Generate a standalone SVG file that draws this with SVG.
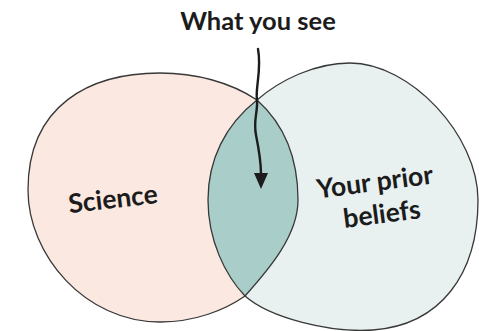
<svg xmlns="http://www.w3.org/2000/svg" width="479" height="331" viewBox="0 0 479 331">
  <style>
    .outline { fill: none; stroke: #383838; stroke-width: 1.3; }
    .label { font-family: Lato, "Open Sans", sans-serif; font-weight: 700; font-size: 26.5px; fill: #1c1c1c; text-anchor: middle; }
    .arrow { fill: none; stroke: #1c1c1c; stroke-width: 2.4; stroke-linecap: round; }
  </style>
  <defs>
    <marker id="head" markerUnits="userSpaceOnUse" viewBox="0 0 16 14" markerWidth="16" markerHeight="14" refX="1" refY="7" orient="auto">
      <path d="M0,0 L16,7 L0,14 Z" fill="#1c1c1c"/>
    </marker>
  </defs>
  <rect width="479" height="331" fill="#ffffff"/>

  <g id="science">
    <path id="science-shape" d="M160,73 C90,73 28,105 28,190 C28,255 85,322 160,322 C195,322 225,310 245,296 C270,268 298,235 298,200 C298,160 285,125 257,100 C230,82 195,73 160,73 Z" fill="#fbe9e1"/>
  </g>
  <g id="beliefs">
    <path id="beliefs-shape" d="M257,100 C280,80 315,63 350,63 C410,63 478,135 478,200 C478,275 440,325 373,330 C330,333 270,318 245,296 C225,275 208,240 208,200 C208,160 225,125 257,100 Z" fill="#e8f1f0"/>
  </g>
  <g id="overlap">
    <path d="M257,100 C285,125 298,160 298,200 C298,235 270,268 245,296 C225,275 208,240 208,200 C208,160 225,125 257,100 Z" fill="#a9cdc8"/>
  </g>
  <g id="outlines">
    <path class="outline" d="M160,73 C90,73 28,105 28,190 C28,255 85,322 160,322 C195,322 225,310 245,296 C270,268 298,235 298,200 C298,160 285,125 257,100 C230,82 195,73 160,73 Z"/>
    <path class="outline" d="M257,100 C280,80 315,63 350,63 C410,63 478,135 478,200 C478,275 440,325 373,330 C330,333 270,318 245,296 C225,275 208,240 208,200 C208,160 225,125 257,100 Z"/>
  </g>
  <g id="science-label">
    <text class="label" transform="translate(114,208) rotate(-6.6)" x="0" y="0">Science</text>
  </g>
  <g id="beliefs-label">
    <text class="label" transform="translate(376,191) rotate(-7.4)" x="0" y="0">Your prior</text>
    <text class="label" transform="translate(383,223) rotate(-7.4)" x="0" y="0">beliefs</text>
  </g>
  <g id="what-you-see">
    <text class="label" x="258" y="30" style="font-size:25.5px">What you see</text>
  </g>
  <g id="connectors">
    <path class="arrow" marker-end="url(#head)" d="M258,49 C262,70 255,88 257,100 C258,112 253,120 256,135 C259,150 261,160 261,174"/>
  </g>
</svg>
